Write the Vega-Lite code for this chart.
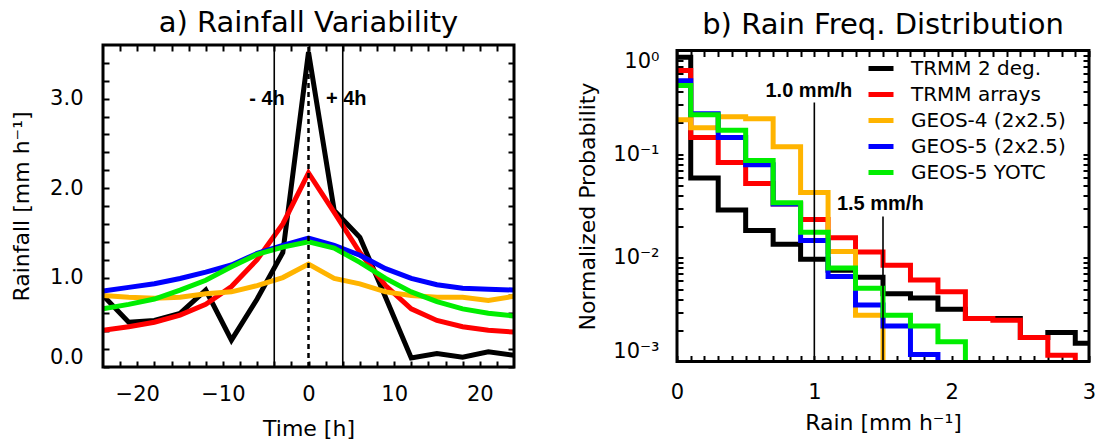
{
  "$schema": "https://vega.github.io/schema/vega-lite/v6.json",
  "background": "white",
  "padding": {"left": 10, "top": 8, "right": 0, "bottom": 0},
  "spacing": 163,
  "bounds": "flush",
  "center": true,
  "config": {
    "view": {"stroke": null},
    "axis": {"grid": false, "domain": false, "ticks": true, "tickColor": "black", "tickWidth": 2, "tickSize": 6, "offset": -6, "labelColor": "black", "titleColor": "black", "labelFont": "DejaVu Sans", "titleFont": "DejaVu Sans", "titleFontWeight": "normal", "labelFontSize": 21, "titleFontSize": 22, "zindex": 1},
    "title": {"font": "DejaVu Sans", "fontSize": 29, "fontWeight": "normal", "color": "black", "anchor": "middle"}
  },
  "resolve": {"scale": {"color": "independent"}, "legend": {"color": "independent"}},
  "datasets": {
    "rain": [
      {"t": -24, "series": "TRMM 2 deg.", "v": 0.80}, {"t": -21, "series": "TRMM 2 deg.", "v": 0.50}, {"t": -18, "series": "TRMM 2 deg.", "v": 0.52}, {"t": -15, "series": "TRMM 2 deg.", "v": 0.60}, {"t": -12, "series": "TRMM 2 deg.", "v": 0.86}, {"t": -9, "series": "TRMM 2 deg.", "v": 0.30}, {"t": -6, "series": "TRMM 2 deg.", "v": 0.76}, {"t": -3, "series": "TRMM 2 deg.", "v": 1.28}, {"t": 0, "series": "TRMM 2 deg.", "v": 3.52}, {"t": 3, "series": "TRMM 2 deg.", "v": 1.75}, {"t": 6, "series": "TRMM 2 deg.", "v": 1.45}, {"t": 9, "series": "TRMM 2 deg.", "v": 0.78}, {"t": 12, "series": "TRMM 2 deg.", "v": 0.10}, {"t": 15, "series": "TRMM 2 deg.", "v": 0.15}, {"t": 18, "series": "TRMM 2 deg.", "v": 0.11}, {"t": 21, "series": "TRMM 2 deg.", "v": 0.17}, {"t": 24, "series": "TRMM 2 deg.", "v": 0.13},
      {"t": -24, "series": "TRMM arrays", "v": 0.41}, {"t": -21, "series": "TRMM arrays", "v": 0.45}, {"t": -18, "series": "TRMM arrays", "v": 0.50}, {"t": -15, "series": "TRMM arrays", "v": 0.58}, {"t": -12, "series": "TRMM arrays", "v": 0.70}, {"t": -9, "series": "TRMM arrays", "v": 0.90}, {"t": -6, "series": "TRMM arrays", "v": 1.20}, {"t": -3, "series": "TRMM arrays", "v": 1.60}, {"t": 0, "series": "TRMM arrays", "v": 2.17}, {"t": 3, "series": "TRMM arrays", "v": 1.73}, {"t": 6, "series": "TRMM arrays", "v": 1.28}, {"t": 9, "series": "TRMM arrays", "v": 0.91}, {"t": 12, "series": "TRMM arrays", "v": 0.65}, {"t": 15, "series": "TRMM arrays", "v": 0.52}, {"t": 18, "series": "TRMM arrays", "v": 0.45}, {"t": 21, "series": "TRMM arrays", "v": 0.41}, {"t": 24, "series": "TRMM arrays", "v": 0.39},
      {"t": -24, "series": "GEOS-4 (2x2.5)", "v": 0.80}, {"t": -21, "series": "GEOS-4 (2x2.5)", "v": 0.78}, {"t": -18, "series": "GEOS-4 (2x2.5)", "v": 0.77}, {"t": -15, "series": "GEOS-4 (2x2.5)", "v": 0.78}, {"t": -12, "series": "GEOS-4 (2x2.5)", "v": 0.82}, {"t": -9, "series": "GEOS-4 (2x2.5)", "v": 0.84}, {"t": -6, "series": "GEOS-4 (2x2.5)", "v": 0.91}, {"t": -3, "series": "GEOS-4 (2x2.5)", "v": 1.00}, {"t": 0, "series": "GEOS-4 (2x2.5)", "v": 1.15}, {"t": 3, "series": "GEOS-4 (2x2.5)", "v": 0.99}, {"t": 6, "series": "GEOS-4 (2x2.5)", "v": 0.93}, {"t": 9, "series": "GEOS-4 (2x2.5)", "v": 0.84}, {"t": 12, "series": "GEOS-4 (2x2.5)", "v": 0.80}, {"t": 15, "series": "GEOS-4 (2x2.5)", "v": 0.78}, {"t": 18, "series": "GEOS-4 (2x2.5)", "v": 0.78}, {"t": 21, "series": "GEOS-4 (2x2.5)", "v": 0.745}, {"t": 24, "series": "GEOS-4 (2x2.5)", "v": 0.79},
      {"t": -24, "series": "GEOS-5 (2x2.5)", "v": 0.85}, {"t": -21, "series": "GEOS-5 (2x2.5)", "v": 0.89}, {"t": -18, "series": "GEOS-5 (2x2.5)", "v": 0.93}, {"t": -15, "series": "GEOS-5 (2x2.5)", "v": 0.99}, {"t": -12, "series": "GEOS-5 (2x2.5)", "v": 1.06}, {"t": -9, "series": "GEOS-5 (2x2.5)", "v": 1.14}, {"t": -6, "series": "GEOS-5 (2x2.5)", "v": 1.27}, {"t": -3, "series": "GEOS-5 (2x2.5)", "v": 1.36}, {"t": 0, "series": "GEOS-5 (2x2.5)", "v": 1.44}, {"t": 3, "series": "GEOS-5 (2x2.5)", "v": 1.36}, {"t": 6, "series": "GEOS-5 (2x2.5)", "v": 1.25}, {"t": 9, "series": "GEOS-5 (2x2.5)", "v": 1.10}, {"t": 12, "series": "GEOS-5 (2x2.5)", "v": 0.99}, {"t": 15, "series": "GEOS-5 (2x2.5)", "v": 0.92}, {"t": 18, "series": "GEOS-5 (2x2.5)", "v": 0.88}, {"t": 21, "series": "GEOS-5 (2x2.5)", "v": 0.87}, {"t": 24, "series": "GEOS-5 (2x2.5)", "v": 0.86},
      {"t": -24, "series": "GEOS-5 YOTC", "v": 0.65}, {"t": -21, "series": "GEOS-5 YOTC", "v": 0.70}, {"t": -18, "series": "GEOS-5 YOTC", "v": 0.76}, {"t": -15, "series": "GEOS-5 YOTC", "v": 0.86}, {"t": -12, "series": "GEOS-5 YOTC", "v": 0.97}, {"t": -9, "series": "GEOS-5 YOTC", "v": 1.12}, {"t": -6, "series": "GEOS-5 YOTC", "v": 1.26}, {"t": -3, "series": "GEOS-5 YOTC", "v": 1.34}, {"t": 0, "series": "GEOS-5 YOTC", "v": 1.40}, {"t": 3, "series": "GEOS-5 YOTC", "v": 1.33}, {"t": 6, "series": "GEOS-5 YOTC", "v": 1.17}, {"t": 9, "series": "GEOS-5 YOTC", "v": 0.99}, {"t": 12, "series": "GEOS-5 YOTC", "v": 0.84}, {"t": 15, "series": "GEOS-5 YOTC", "v": 0.73}, {"t": 18, "series": "GEOS-5 YOTC", "v": 0.65}, {"t": 21, "series": "GEOS-5 YOTC", "v": 0.60}, {"t": 24, "series": "GEOS-5 YOTC", "v": 0.57}
    ],
    "freq": [
      {"r": 0, "series": "TRMM 2 deg.", "p": 0.86}, {"r": 0.2, "series": "TRMM 2 deg.", "p": 0.059}, {"r": 0.4, "series": "TRMM 2 deg.", "p": 0.029}, {"r": 0.6, "series": "TRMM 2 deg.", "p": 0.0184}, {"r": 0.8, "series": "TRMM 2 deg.", "p": 0.0135}, {"r": 1.0, "series": "TRMM 2 deg.", "p": 0.0097}, {"r": 1.2, "series": "TRMM 2 deg.", "p": 0.0076}, {"r": 1.4, "series": "TRMM 2 deg.", "p": 0.0065}, {"r": 1.6, "series": "TRMM 2 deg.", "p": 0.0045}, {"r": 1.8, "series": "TRMM 2 deg.", "p": 0.0041}, {"r": 2.0, "series": "TRMM 2 deg.", "p": 0.0032}, {"r": 2.2, "series": "TRMM 2 deg.", "p": 0.0026}, {"r": 2.4, "series": "TRMM 2 deg.", "p": 0.0026}, {"r": 2.6, "series": "TRMM 2 deg.", "p": 0.0017}, {"r": 2.8, "series": "TRMM 2 deg.", "p": 0.0019}, {"r": 3.0, "series": "TRMM 2 deg.", "p": 0.0015},
      {"r": 0, "series": "TRMM arrays", "p": 0.64}, {"r": 0.2, "series": "TRMM arrays", "p": 0.145}, {"r": 0.4, "series": "TRMM arrays", "p": 0.083}, {"r": 0.6, "series": "TRMM arrays", "p": 0.052}, {"r": 0.8, "series": "TRMM arrays", "p": 0.033}, {"r": 1.0, "series": "TRMM arrays", "p": 0.0234}, {"r": 1.2, "series": "TRMM arrays", "p": 0.0156}, {"r": 1.4, "series": "TRMM arrays", "p": 0.0114}, {"r": 1.6, "series": "TRMM arrays", "p": 0.0085}, {"r": 1.8, "series": "TRMM arrays", "p": 0.0061}, {"r": 2.0, "series": "TRMM arrays", "p": 0.0047}, {"r": 2.2, "series": "TRMM arrays", "p": 0.0026}, {"r": 2.4, "series": "TRMM arrays", "p": 0.0025}, {"r": 2.6, "series": "TRMM arrays", "p": 0.0017}, {"r": 2.8, "series": "TRMM arrays", "p": 0.00115}, {"r": 3.0, "series": "TRMM arrays", "p": 0.00001},
      {"r": 0, "series": "GEOS-4 (2x2.5)", "p": 0.215}, {"r": 0.2, "series": "GEOS-4 (2x2.5)", "p": 0.18}, {"r": 0.4, "series": "GEOS-4 (2x2.5)", "p": 0.23}, {"r": 0.6, "series": "GEOS-4 (2x2.5)", "p": 0.22}, {"r": 0.8, "series": "GEOS-4 (2x2.5)", "p": 0.118}, {"r": 1.0, "series": "GEOS-4 (2x2.5)", "p": 0.0426}, {"r": 1.2, "series": "GEOS-4 (2x2.5)", "p": 0.0115}, {"r": 1.4, "series": "GEOS-4 (2x2.5)", "p": 0.0028}, {"r": 1.6, "series": "GEOS-4 (2x2.5)", "p": 0.00001}, {"r": 1.8, "series": "GEOS-4 (2x2.5)", "p": 0.00001}, {"r": 2.0, "series": "GEOS-4 (2x2.5)", "p": 0.00001}, {"r": 2.2, "series": "GEOS-4 (2x2.5)", "p": 0.00001}, {"r": 2.4, "series": "GEOS-4 (2x2.5)", "p": 0.00001}, {"r": 2.6, "series": "GEOS-4 (2x2.5)", "p": 0.00001}, {"r": 2.8, "series": "GEOS-4 (2x2.5)", "p": 0.00001}, {"r": 3.0, "series": "GEOS-4 (2x2.5)", "p": 0.00001},
      {"r": 0, "series": "GEOS-5 (2x2.5)", "p": 0.51}, {"r": 0.2, "series": "GEOS-5 (2x2.5)", "p": 0.245}, {"r": 0.4, "series": "GEOS-5 (2x2.5)", "p": 0.145}, {"r": 0.6, "series": "GEOS-5 (2x2.5)", "p": 0.079}, {"r": 0.8, "series": "GEOS-5 (2x2.5)", "p": 0.033}, {"r": 1.0, "series": "GEOS-5 (2x2.5)", "p": 0.0147}, {"r": 1.2, "series": "GEOS-5 (2x2.5)", "p": 0.0066}, {"r": 1.4, "series": "GEOS-5 (2x2.5)", "p": 0.0035}, {"r": 1.6, "series": "GEOS-5 (2x2.5)", "p": 0.0022}, {"r": 1.8, "series": "GEOS-5 (2x2.5)", "p": 0.00117}, {"r": 2.0, "series": "GEOS-5 (2x2.5)", "p": 0.00001}, {"r": 2.2, "series": "GEOS-5 (2x2.5)", "p": 0.00001}, {"r": 2.4, "series": "GEOS-5 (2x2.5)", "p": 0.00001}, {"r": 2.6, "series": "GEOS-5 (2x2.5)", "p": 0.00001}, {"r": 2.8, "series": "GEOS-5 (2x2.5)", "p": 0.00001}, {"r": 3.0, "series": "GEOS-5 (2x2.5)", "p": 0.00001},
      {"r": 0, "series": "GEOS-5 YOTC", "p": 0.46}, {"r": 0.2, "series": "GEOS-5 YOTC", "p": 0.24}, {"r": 0.4, "series": "GEOS-5 YOTC", "p": 0.17}, {"r": 0.6, "series": "GEOS-5 YOTC", "p": 0.087}, {"r": 0.8, "series": "GEOS-5 YOTC", "p": 0.034}, {"r": 1.0, "series": "GEOS-5 YOTC", "p": 0.0177}, {"r": 1.2, "series": "GEOS-5 YOTC", "p": 0.0080}, {"r": 1.4, "series": "GEOS-5 YOTC", "p": 0.0051}, {"r": 1.6, "series": "GEOS-5 YOTC", "p": 0.0028}, {"r": 1.8, "series": "GEOS-5 YOTC", "p": 0.0022}, {"r": 2.0, "series": "GEOS-5 YOTC", "p": 0.00155}, {"r": 2.2, "series": "GEOS-5 YOTC", "p": 0.00001}, {"r": 2.4, "series": "GEOS-5 YOTC", "p": 0.00001}, {"r": 2.6, "series": "GEOS-5 YOTC", "p": 0.00001}, {"r": 2.8, "series": "GEOS-5 YOTC", "p": 0.00001}, {"r": 3.0, "series": "GEOS-5 YOTC", "p": 0.00001}
    ],
    "frameA": [{"x0": -24, "x1": 24, "y0": 0, "y1": 3.6}],
    "frameB": [{"x0": 0, "x1": 3, "y0": 0.001, "y1": 1}],
    "rulesA": [{"t": -4}, {"t": 4}],
    "dashA": [{"t": 0, "y0": 0, "y1": 3.6}],
    "textA": [{"t": -4.85, "v": 3.0, "label": "- 4h"}, {"t": 4.4, "v": 3.0, "label": "+ 4h"}],
    "rulesB": [{"r": 1.0, "lo": 0.001, "hi": 0.315}, {"r": 1.5, "lo": 0.001, "hi": 0.0251}],
    "textB": [{"r": 0.96, "p": 0.41, "label": "1.0 mm/h"}, {"r": 1.48, "p": 0.033, "label": "1.5 mm/h"}]
  },
  "hconcat": [
    {
      "width": 411,
      "height": 322,
      "title": {"text": "a) Rainfall Variability", "offset": 6},
      "resolve": {"axis": {"x": "independent", "y": "independent"}},
      "layer": [
        {
          "data": {"name": "rain"},
          "mark": {"type": "line", "strokeWidth": 5, "clip": true},
          "encoding": {
            "x": {"field": "t", "type": "quantitative", "scale": {"domain": [-24, 24], "nice": false, "zero": false},
              "axis": {"orient": "bottom", "title": "Time [h]", "values": [-22, -20, -18, -16, -14, -12, -10, -8, -6, -4, -2, 0, 2, 4, 6, 8, 10, 12, 14, 16, 18, 20, 22],
                "labelExpr": "datum.value % 10 === 0 ? datum.label : ''", "labelFlush": false, "labelPadding": 16, "titlePadding": 14}},
            "y": {"field": "v", "type": "quantitative", "scale": {"domain": [0, 3.6], "nice": false},
              "axis": {"orient": "left", "title": "Rainfall [mm h⁻¹]", "values": [0, 0.2, 0.4, 0.6, 0.8, 1, 1.2, 1.4, 1.6, 1.8, 2, 2.2, 2.4, 2.6, 2.8, 3, 3.2, 3.4],
                "labelExpr": "datum.value % 1 === 0 ? format(datum.value, '.1f') : ''", "labelFlush": true, "labelPadding": 20, "titlePadding": 16}},
            "color": {"field": "series", "type": "nominal",
              "scale": {"domain": ["TRMM 2 deg.", "TRMM arrays", "GEOS-4 (2x2.5)", "GEOS-5 (2x2.5)", "GEOS-5 YOTC"], "range": ["#000000", "#ff0000", "#ffb400", "#0000ff", "#00ee00"]},
              "legend": null}
          }
        },
        {
          "data": {"name": "rulesA"},
          "mark": {"type": "rule", "color": "black", "strokeWidth": 1.6},
          "encoding": {
            "x": {"field": "t", "type": "quantitative",
              "axis": {"orient": "top", "title": null, "labels": false, "values": [-22, -20, -18, -16, -14, -12, -10, -8, -6, -4, -2, 0, 2, 4, 6, 8, 10, 12, 14, 16, 18, 20, 22]}}
          }
        },
        {
          "data": {"name": "dashA"},
          "mark": {"type": "rule", "color": "black", "strokeWidth": 2.5, "strokeDash": [5, 4]},
          "encoding": {
            "x": {"field": "t", "type": "quantitative", "axis": null},
            "y": {"field": "y0", "type": "quantitative", "axis": null},
            "y2": {"field": "y1"}
          }
        },
        {
          "data": {"name": "frameA"},
          "mark": {"type": "rect", "fill": null, "fillOpacity": 0, "stroke": "black", "strokeWidth": 3},
          "encoding": {
            "x": {"field": "x0", "type": "quantitative", "axis": null},
            "x2": {"field": "x1"},
            "y": {"field": "y0", "type": "quantitative", "axis": null},
            "y2": {"field": "y1"}
          }
        },
        {
          "data": {"name": "textA"},
          "mark": {"type": "text", "font": "Liberation Sans", "fontWeight": "bold", "fontSize": 20, "color": "black", "baseline": "middle", "align": "center"},
          "encoding": {
            "x": {"field": "t", "type": "quantitative", "axis": null},
            "y": {"field": "v", "type": "quantitative",
              "axis": {"orient": "right", "title": null, "labels": false, "values": [0, 0.2, 0.4, 0.6, 0.8, 1, 1.2, 1.4, 1.6, 1.8, 2, 2.2, 2.4, 2.6, 2.8, 3, 3.2, 3.4]}},
            "text": {"field": "label"}
          }
        }
      ]
    },
    {
      "width": 412,
      "height": 311,
      "title": {"text": "b) Rain Freq. Distribution", "offset": 9},
      "resolve": {"axis": {"x": "independent", "y": "independent"}},
      "layer": [
        {
          "data": {"name": "freq"},
          "mark": {"type": "line", "strokeWidth": 5, "interpolate": "step", "clip": true},
          "encoding": {
            "x": {"field": "r", "type": "quantitative", "scale": {"domain": [0, 3], "nice": false},
              "axis": {"orient": "bottom", "title": "Rain [mm h⁻¹]", "values": [0, 0.1, 0.2, 0.3, 0.4, 0.5, 0.6, 0.7, 0.8, 0.9, 1, 1.1, 1.2, 1.3, 1.4, 1.5, 1.6, 1.7, 1.8, 1.9, 2, 2.1, 2.2, 2.3, 2.4, 2.5, 2.6, 2.7, 2.8, 2.9, 3],
                "labelExpr": "datum.value % 1 === 0 ? format(datum.value, 'd') : ''", "labelFlush": false, "labelPadding": 20, "titlePadding": 10}},
            "y": {"field": "p", "type": "quantitative", "scale": {"type": "log", "domain": [0.001, 1], "nice": false},
              "axis": {"orient": "left", "title": "Normalized Probability", "values": [0.001, 0.002, 0.003, 0.004, 0.005, 0.006, 0.007, 0.008, 0.009, 0.01, 0.02, 0.03, 0.04, 0.05, 0.06, 0.07, 0.08, 0.09, 0.1, 0.2, 0.3, 0.4, 0.5, 0.6, 0.7, 0.8, 0.9, 1],
                "labelExpr": "datum.value === 1 ? '10⁰' : datum.value === 0.1 ? '10⁻¹' : datum.value === 0.01 ? '10⁻²' : datum.value === 0.001 ? '10⁻³' : ''",
                "labelFlush": true, "labelPadding": 18, "titlePadding": 13}},
            "color": {"field": "series", "type": "nominal",
              "scale": {"domain": ["TRMM 2 deg.", "TRMM arrays", "GEOS-4 (2x2.5)", "GEOS-5 (2x2.5)", "GEOS-5 YOTC"], "range": ["#000000", "#ff0000", "#ffb400", "#0000ff", "#00ee00"]},
              "legend": {"orient": "none", "legendX": 189, "legendY": 3, "title": null, "symbolType": "stroke", "symbolStrokeWidth": 5, "symbolSize": 625, "labelFont": "DejaVu Sans", "labelFontSize": 20, "labelColor": "black", "labelOffset": 15, "rowPadding": 1, "padding": 0, "labelLimit": 300}}
          }
        },
        {
          "data": {"name": "rulesB"},
          "mark": {"type": "rule", "color": "black", "strokeWidth": 1.6},
          "encoding": {
            "x": {"field": "r", "type": "quantitative",
              "axis": {"orient": "top", "title": null, "labels": false, "values": [0, 0.1, 0.2, 0.3, 0.4, 0.5, 0.6, 0.7, 0.8, 0.9, 1, 1.1, 1.2, 1.3, 1.4, 1.5, 1.6, 1.7, 1.8, 1.9, 2, 2.1, 2.2, 2.3, 2.4, 2.5, 2.6, 2.7, 2.8, 2.9, 3]}},
            "y": {"field": "lo", "type": "quantitative",
              "axis": {"orient": "right", "title": null, "labels": false, "values": [0.001, 0.002, 0.003, 0.004, 0.005, 0.006, 0.007, 0.008, 0.009, 0.01, 0.02, 0.03, 0.04, 0.05, 0.06, 0.07, 0.08, 0.09, 0.1, 0.2, 0.3, 0.4, 0.5, 0.6, 0.7, 0.8, 0.9, 1]}},
            "y2": {"field": "hi"}
          }
        },
        {
          "data": {"name": "frameB"},
          "mark": {"type": "rect", "fill": null, "fillOpacity": 0, "stroke": "black", "strokeWidth": 3},
          "encoding": {
            "x": {"field": "x0", "type": "quantitative", "axis": null},
            "x2": {"field": "x1"},
            "y": {"field": "y0", "type": "quantitative", "axis": null},
            "y2": {"field": "y1"}
          }
        },
        {
          "data": {"name": "textB"},
          "mark": {"type": "text", "font": "Liberation Sans", "fontWeight": "bold", "fontSize": 20, "color": "black", "baseline": "middle", "align": "center"},
          "encoding": {
            "x": {"field": "r", "type": "quantitative", "axis": null},
            "y": {"field": "p", "type": "quantitative", "axis": null},
            "text": {"field": "label"}
          }
        }
      ]
    }
  ]
}
